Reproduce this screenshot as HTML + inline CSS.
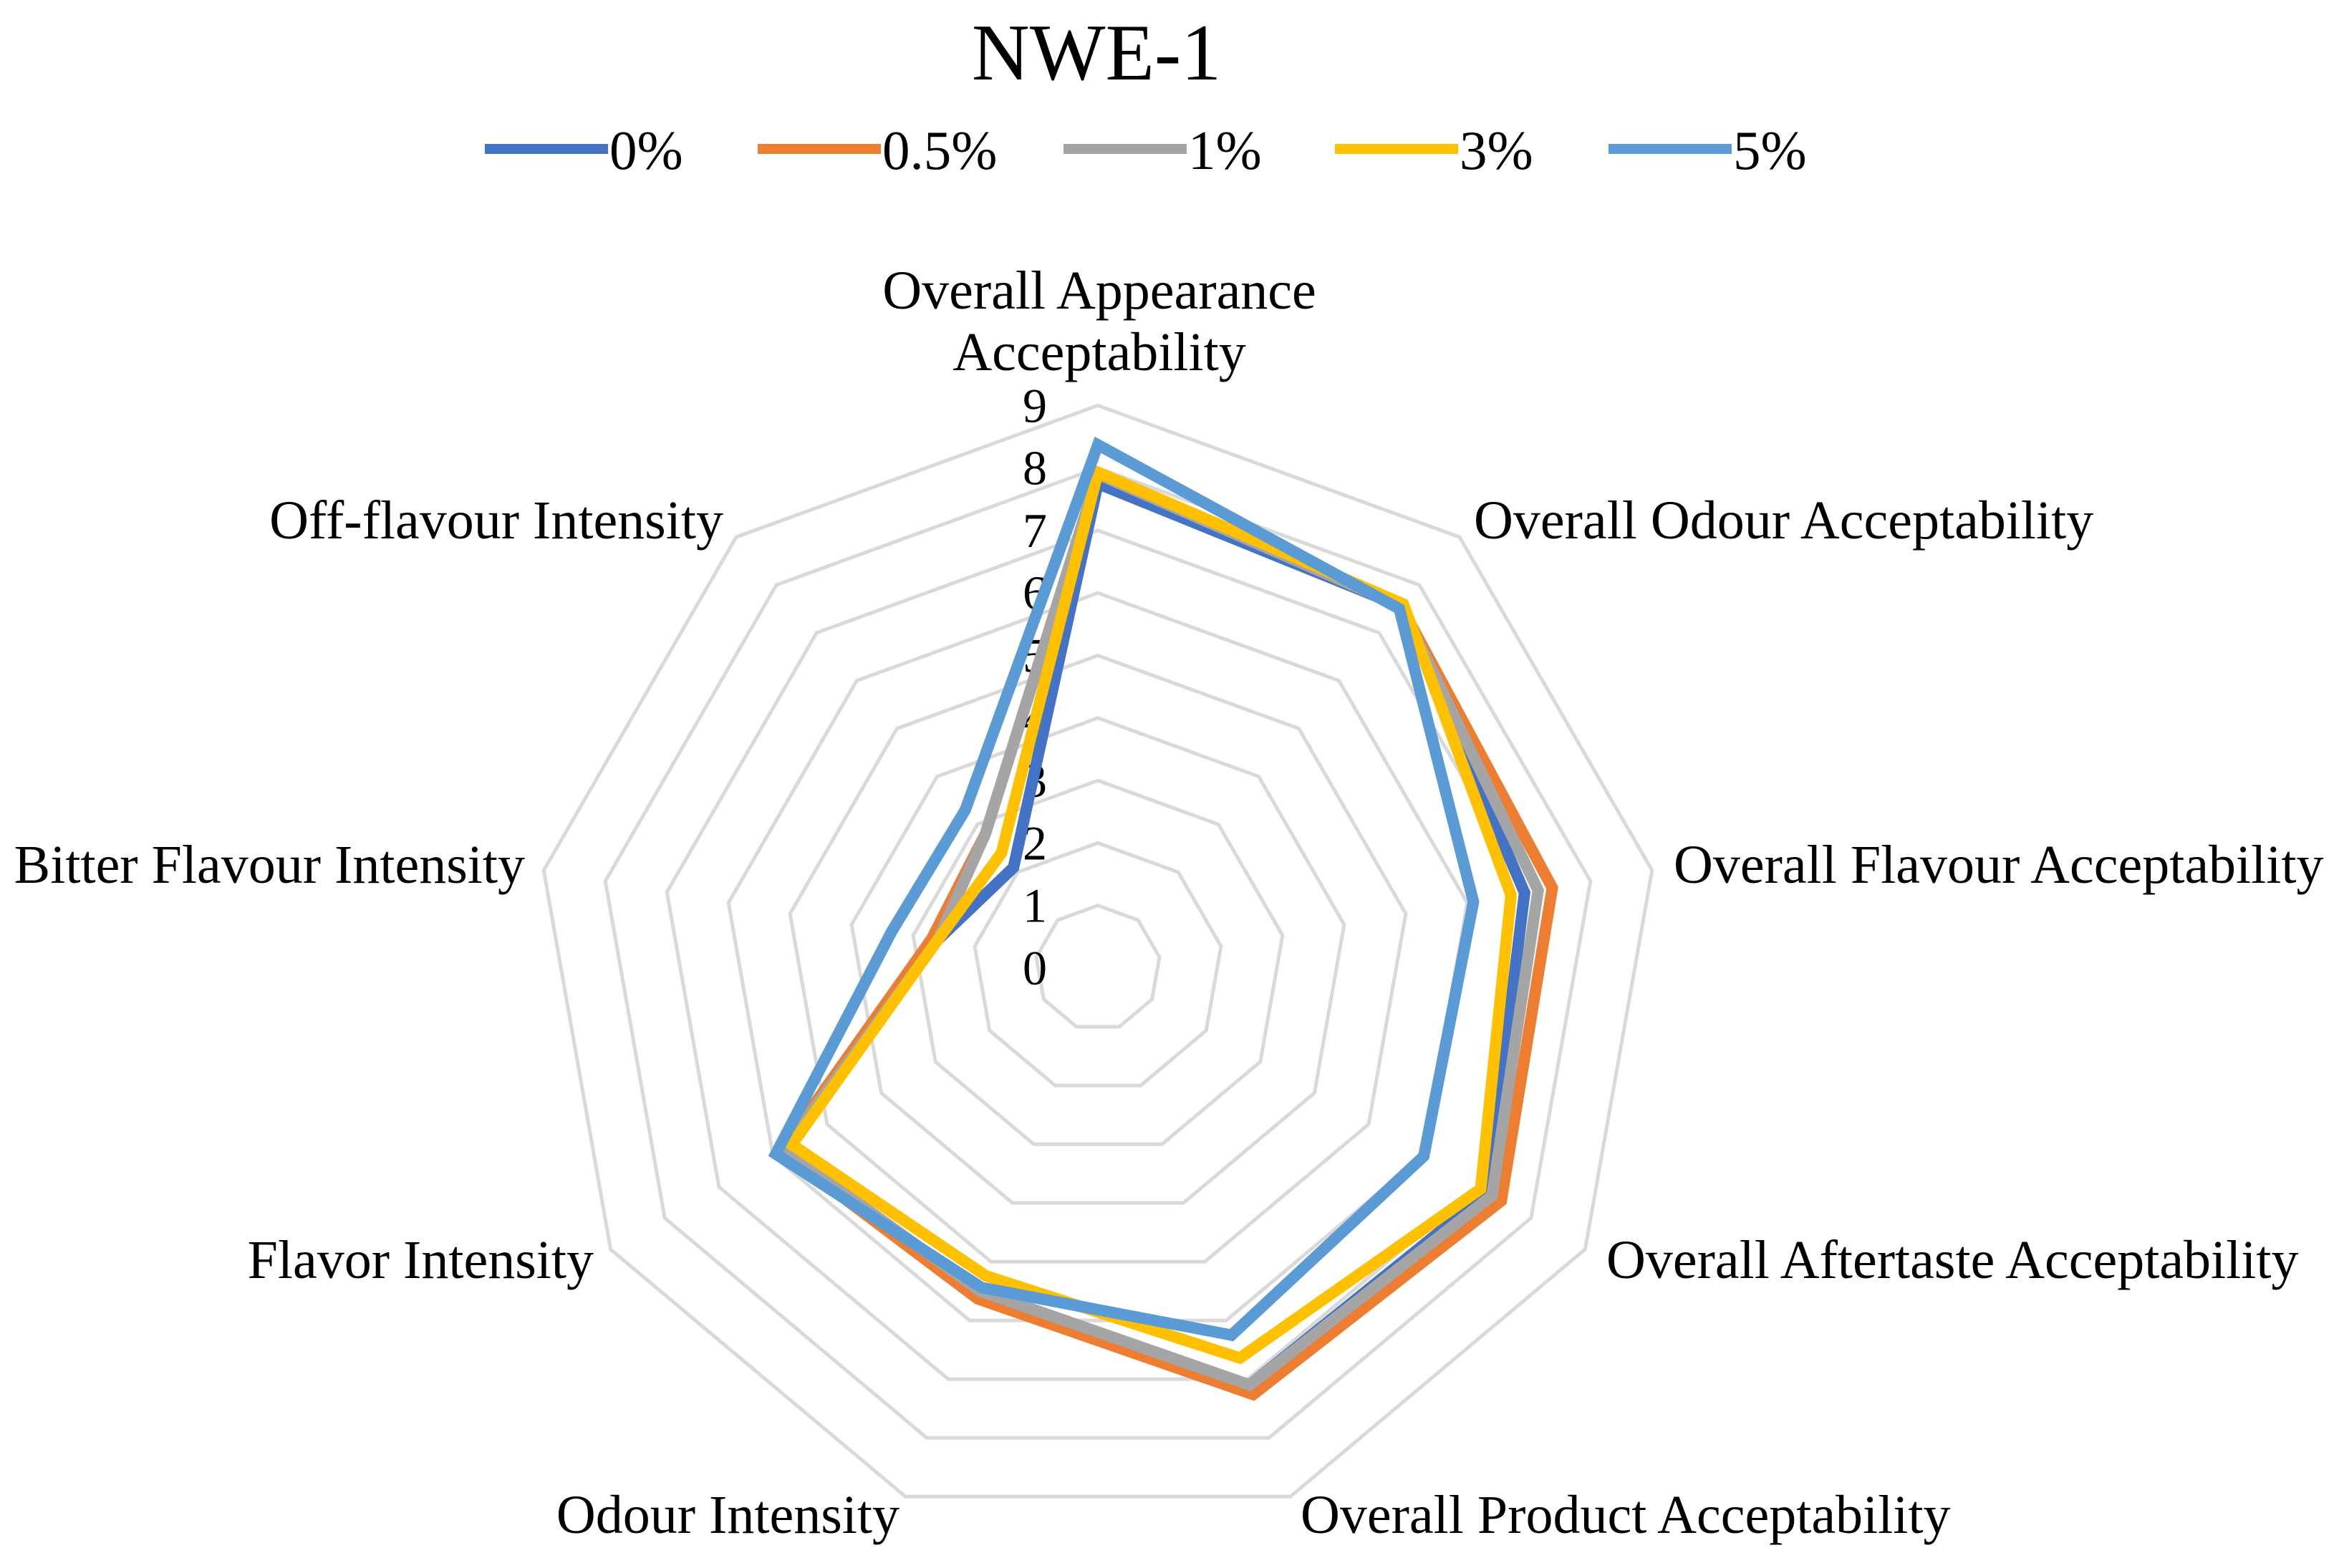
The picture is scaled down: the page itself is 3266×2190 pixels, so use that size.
<!DOCTYPE html>
<html><head><meta charset="utf-8">
<style>
html,body{margin:0;padding:0;background:#fff;}
svg{display:block;font-family:"Liberation Serif",serif;}
</style></head>
<body>
<svg id="chart" width="3266" height="2190" viewBox="0 0 3266 2190" xmlns="http://www.w3.org/2000/svg">
<rect width="3266" height="2190" fill="#fff"/>
<text x="1531" y="74" font-size="112" text-anchor="middle" dominant-baseline="central" fill="#000">NWE-1</text>
<g id="legend"></g>
<g id="grid"></g>
<g id="ticks"></g>
<g id="series"></g>
<g id="cats"></g>
</svg>
<script>
const categories = ["Overall Appearance Acceptability","Overall Odour Acceptability","Overall Flavour Acceptability","Overall Aftertaste Acceptability","Overall Product Acceptability","Odour Intensity","Flavor Intensity","Bitter Flavour Intensity","Off-flavour Intensity"];
const seriesNames = ["0%","0.5%","1%","3%","5%"];
const s0 = [7.75, 7.55, 6.93, 7.2, 7.1, 5.5, 5.85, 2.6, 2.1];
const s05 = [7.9, 7.55, 7.38, 7.45, 7.26, 5.63, 5.85, 2.7, 2.8];
const s1 = [7.9, 7.55, 7.15, 7.28, 7.1, 5.5, 5.8, 2.6, 2.8];
const s3 = [7.93, 7.6, 6.71, 7.07, 6.64, 5.24, 5.65, 2.6, 2.4];
const s5 = [8.37, 7.5, 6.1, 6.02, 6.25, 5.44, 5.95, 3.35, 3.3];
const tickLabels = ["0","1","2","3","4","5","6","7","8","9"];
const allSeries = [s0, s05, s1, s3, s5];
const colors = ["#4472C4","#ED7D31","#A5A5A5","#FFC000","#5B9BD5"];

const NS = "http://www.w3.org/2000/svg";
const cx = 1533, cy = 1352, unit = 87.3, maxV = 9;
const n = categories.length;
function ang(i){ return i * 2 * Math.PI / n; }
function px(i, v){ return cx + Math.sin(ang(i)) * v * unit; }
function py(i, v){ return cy - Math.cos(ang(i)) * v * unit; }
function mk(tag, attrs, parent){ const e = document.createElementNS(NS, tag); for (const k in attrs) e.setAttribute(k, attrs[k]); parent.appendChild(e); return e; }

const grid = document.getElementById('grid');
for (let k = 1; k <= maxV; k++) {
  const pts = [];
  for (let i = 0; i < n; i++) pts.push(px(i, k).toFixed(1) + "," + py(i, k).toFixed(1));
  const p = mk('polygon', {points: pts.join(' '), fill: 'none', stroke: '#d9d9d9', 'stroke-width': 5}, grid);
  
  
}

const ticks = document.getElementById('ticks');
tickLabels.forEach((t, k) => {
  const e = mk('text', {x: 1462, y: cy - k * unit, 'font-size': 68, 'text-anchor': 'end', 'dominant-baseline': 'central', fill: '#000'}, ticks);
  e.textContent = t;
  
  
});

const sg = document.getElementById('series');
allSeries.forEach((vals, si) => {
  const pts = vals.map((v, i) => px(i, v).toFixed(1) + "," + py(i, v).toFixed(1));
  const p = mk('polygon', {points: pts.join(' '), fill: 'none', stroke: colors[si], 'stroke-width': 16, 'stroke-linejoin': 'miter'}, sg);
  
  
});

const legend = document.getElementById('legend');
const legX = [677, 1058, 1485, 1864, 2246];
seriesNames.forEach((nm, si) => {
  const g = mk('g', {}, legend);
  
  
  mk('line', {x1: legX[si], y1: 208, x2: legX[si] + 172, y2: 208, stroke: colors[si], 'stroke-width': 14}, g);
  const t = mk('text', {x: legX[si] + 174, y: 210, 'font-size': 77, 'dominant-baseline': 'central', fill: '#000'}, g);
  t.textContent = nm;
});

const cats = document.getElementById('cats');
const catPos = [
  {x:1535, y:[406,492], a:'middle', lines:["Overall Appearance","Acceptability"]},
  {x:2058, y:[727], a:'start'},
  {x:2337, y:[1208], a:'start'},
  {x:2243, y:[1760], a:'start'},
  {x:1816, y:[2116], a:'start'},
  {x:1256, y:[2116], a:'end'},
  {x:829, y:[1760], a:'end'},
  {x:733, y:[1208], a:'end'},
  {x:1010, y:[727], a:'end'}
];
categories.forEach((c, i) => {
  const cp = catPos[i];
  const lines = cp.lines || [c];
  lines.forEach((ln, li) => {
    const t = mk('text', {x: cp.x, y: cp.y[li], 'font-size': 76, 'text-anchor': cp.a, 'dominant-baseline': 'central', fill: '#000'}, cats);
    t.textContent = ln;
    
    
  });
});
</script>
</body></html>
